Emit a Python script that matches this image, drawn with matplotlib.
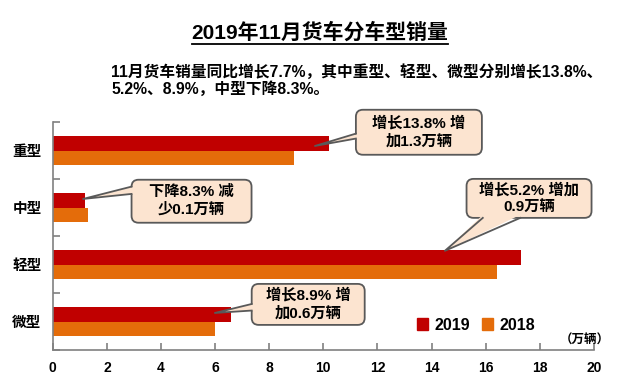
import matplotlib.pyplot as plt
from matplotlib.patches import FancyBboxPatch, Polygon, Patch
from matplotlib.lines import Line2D
from matplotlib.transforms import IdentityTransform

plt.rcParams['font.family'] = ['Liberation Sans', 'Noto Sans CJK SC']
plt.rcParams['font.weight'] = 'bold'

categories = ['重型', '中型', '轻型', '微型']
sales_2019 = [10.2, 1.2, 17.3, 6.6]
sales_2018 = [8.9, 1.3, 16.4, 6.0]
x_ticks = [0, 2, 4, 6, 8, 10, 12, 14, 16, 18, 20]
series_names = ['2019', '2018']
title = '2019年11月货车分车型销量'
subtitle1 = '11月货车销量同比增长7.7%，其中重型、轻型、微型分别增长13.8%、'
subtitle2 = '5.2%、8.9%，中型下降8.3%。'
notes = ['增长13.8% 增\n加1.3万辆', '下降8.3% 减\n少0.1万辆',
         '增长5.2% 增加\n0.9万辆', '增长8.9% 增\n加0.6万辆']

# callout layout: box centre (data), box size (px), tip (data), pointer base
note_layout = [
    (13.53, 3.82, 126, 45, 9.69, 3.58, 'left', 0.53, 0.64),
    (5.13, 2.61, 120, 43, 1.12, 2.65, 'left', 0.16, 0.33),
    (17.60, 2.66, 125, 39, 14.49, 1.74, 'bottom', 0.13, 0.43),
    (9.44, 0.80, 113, 41, 5.99, 0.65, 'left', 0.49, 0.65),
]

c2019 = '#C00000'
c2018 = '#E46C0A'
fill = '#FCE4D0'
edge = '#595959'

W, H, DPI = 640, 388, 100
fig = plt.figure(figsize=(W / DPI, H / DPI), dpi=DPI)
ax = fig.add_axes([52.7 / W, 38 / H, 541.3 / W, 228 / H])

n = len(categories)
centers = [n - i - 0.5 for i in range(n)]
bh = 0.26
ax.barh([c + bh / 2 for c in centers], sales_2019, height=bh, color=c2019, zorder=2)
ax.barh([c - bh / 2 for c in centers], sales_2018, height=bh, color=c2018, zorder=2)

ax.set_xlim(0, 20)
ax.set_ylim(0, n)
ax.set_xticks(x_ticks)
ax.set_xticklabels([str(t) for t in x_ticks], fontsize=10, fontweight='bold')
ax.set_yticks(range(n + 1))
ax.set_yticklabels([])
ax.set_yticks(centers, categories, minor=True)
ax.tick_params(axis='y', which='minor', length=0, pad=8, labelsize=10.5)
ax.tick_params(axis='y', which='major', direction='in', length=5, color='#808080', width=1.2)
ax.tick_params(axis='x', direction='in', length=5, color='#808080', width=1.2, pad=8)
for s in ['top', 'right']:
    ax.spines[s].set_visible(False)
for s in ['left', 'bottom']:
    ax.spines[s].set_color('#808080')
    ax.spines[s].set_linewidth(1.2)

handles = [Patch(color=c2019), Patch(color=c2018)]
ax.legend(handles, series_names, ncol=2, frameon=False, fontsize=11.5,
          handlelength=0.7, handleheight=0.7, handletextpad=0.4, columnspacing=0.7,
          loc='center', bbox_to_anchor=((476 - 52.7) / 541.3, (388 - 325 - 38) / 228))

fig.text(585 / W, 1 - 341 / H, '（万辆）', fontsize=9, ha='center', va='center')

t = fig.text(0.5, 1 - 33 / H, title, fontsize=15, ha='center', va='center')
fig.text(111 / W, 1 - 72 / H, subtitle1, fontsize=11.3, ha='left', va='center')
fig.text(111 / W, 1 - 89 / H, subtitle2, fontsize=11.3, ha='left', va='center')

fig.canvas.draw()
bb = t.get_window_extent()
fig.add_artist(Line2D([bb.x0, bb.x1], [bb.y0 - 1, bb.y0 - 1], color='black', lw=1.3,
                      transform=IdentityTransform()))

idt = IdentityTransform()
for note, (bx, by, bw, bhp, tx, ty, side, f1, f2) in zip(notes, note_layout):
    cx, cy = ax.transData.transform((bx, by))
    px, py = ax.transData.transform((tx, ty))
    x0, y0 = cx - bw / 2, cy - bhp / 2
    box = FancyBboxPatch((x0, y0), bw, bhp, boxstyle='round,pad=0,rounding_size=7',
                         fc=fill, ec=edge, lw=1.3, transform=idt, zorder=5)
    fig.add_artist(box)
    if side == 'left':
        e1 = (x0, y0 + bhp - f1 * bhp)
        e2 = (x0, y0 + bhp - f2 * bhp)
        i1 = (x0 + 3, e1[1])
        i2 = (x0 + 3, e2[1])
    else:
        e1 = (x0 + f1 * bw, y0)
        e2 = (x0 + f2 * bw, y0)
        i1 = (e1[0], y0 + 3)
        i2 = (e2[0], y0 + 3)
    fig.add_artist(Polygon([i1, (px, py), i2], closed=True, fc=fill, ec='none',
                           transform=idt, zorder=6))
    fig.add_artist(Line2D([e1[0], px, e2[0]], [e1[1], py, e2[1]], color=edge, lw=1.3,
                          transform=idt, zorder=7))
    fig.text(cx, cy, note, fontsize=11, ha='center', va='center', multialignment='center',
             linespacing=1.3, transform=idt, zorder=8)

fig.savefig('out.png', dpi=DPI)
